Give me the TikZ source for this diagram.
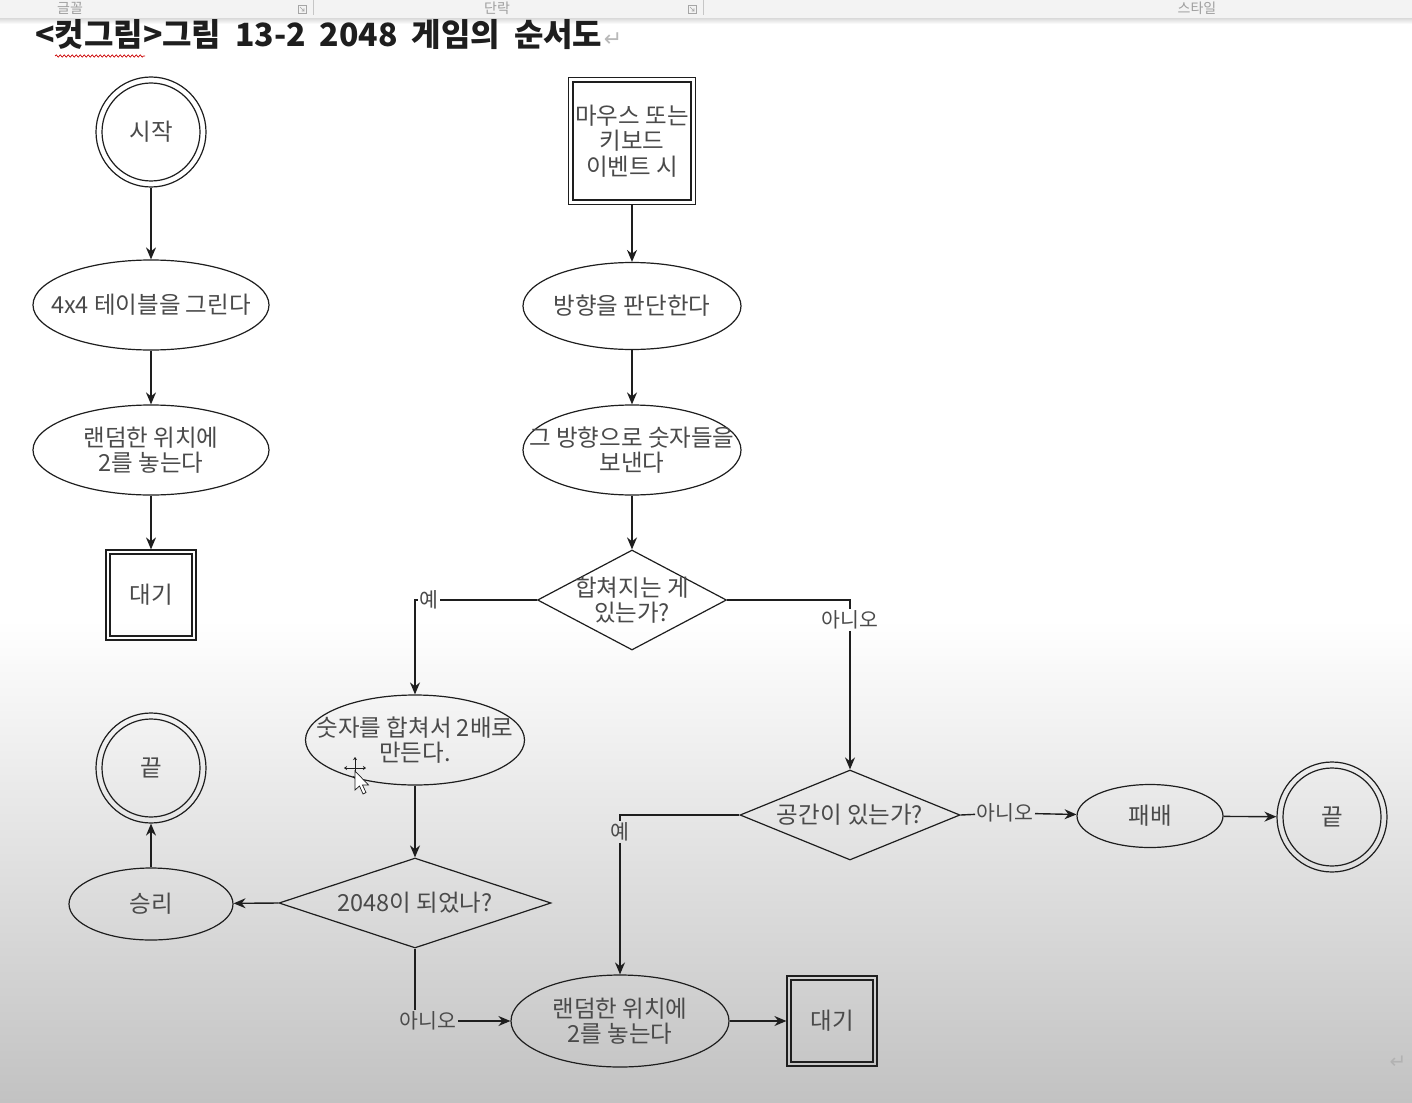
\documentclass[tikz,border=0pt]{standalone}
\usepackage{fontspec}
\setmainfont{Noto Sans CJK KR}
\newfontfamily\titlefont[WordSpace=1.9]{Noto Sans CJK KR}
\newfontfamily\symfont{DejaVu Sans}
\usetikzlibrary{shapes.geometric,arrows.meta,decorations.pathmorphing}

\definecolor{ink}{HTML}{1E1E1E}
\definecolor{txtgray}{HTML}{4A4A4A}
\definecolor{barbg}{HTML}{F3F3F3}
\definecolor{pagegray}{HTML}{C2C2C2}

\newcommand{\nodefont}{\fontsize{23.5}{25.5}\selectfont}
\newcommand{\labfont}{\fontsize{20.5}{24}\selectfont}

\begin{document}
\begin{tikzpicture}[x=1pt,y=-1pt,>={Stealth[length=12pt,width=10pt]},
  every label/.style={align=center,text=txtgray,font=\nodefont,inner sep=0pt},
  proc/.style 2 args={ellipse,draw=ink,line width=1.2pt,inner sep=0pt,minimum width=#1,minimum height=#2},
  cond/.style 2 args={diamond,draw=ink,line width=1.2pt,inner sep=0pt,minimum width=#1,minimum height=#2},
  ringout/.style={circle,draw=ink,line width=1.2pt,inner sep=0pt,minimum size=110pt},
  ringin/.style={circle,draw=ink,line width=1.2pt,inner sep=0pt,minimum size=98pt,text=txtgray,font=\nodefont},
  boxout/.style={rectangle,draw=ink,line width=1.2pt,inner sep=0pt,minimum size=#1},
  boxin/.style={rectangle,draw=ink,line width=1.2pt,inner sep=0pt,minimum size=#1,align=center,text=txtgray,font=\nodefont},
  answer/.style={text=txtgray,font=\labfont,inner sep=1.5pt},
  bar/.style={text=gray!75,font=\fontsize{14}{16}\selectfont,inner sep=0pt},
  flow/.style={->,draw=ink,line width=1.4pt},
  link/.style={draw=ink,line width=1.4pt}]
\useasboundingbox (0,0) rectangle (1412,1102);

% page and ribbon
\fill[white] (0,0) rectangle (1412,1102);
\fill[top color=white,bottom color=pagegray] (0,620) rectangle (1412,1102);
\fill[barbg] (0,0) rectangle (1412,19);
\fill[top color=gray!25,bottom color=white] (0,19) rectangle (1412,24);
\node[bar] (font) at (70,8) {글꼴};
\node[bar] (para) at (497,8) {단락};
\node[bar] (style) at (1197,8) {스타일};
\foreach \x in {302,692}{
  \draw[gray!70,line width=0.6pt] (\x-4,5) rectangle (\x+4,13);
  \draw[gray!70,line width=0.6pt] (\x-2,7) -- (\x+2,11) -- (\x+2,8.5) (\x+2,11) -- (\x-0.5,11);
  \draw[gray!45] (\x+11,0) -- (\x+11,15);
}

% title
\node[anchor=base west,inner sep=0pt,text=ink,font=\titlefont\fontsize{32}{36}\bfseries\selectfont] (title) at (35,47) {<컷그림>그림 13-2 2048 게임의 순서도};
\node[anchor=base west,inner sep=1pt,text=gray!55,font=\symfont\fontsize{22}{24}\selectfont] (ret1) at (title.base east) {↵};
\draw[red!80!black,line width=0.7pt,decorate,decoration={snake,amplitude=1.1pt,segment length=4pt}] (55,56) -- (145,56);
\node[inner sep=0pt,text=gray!60,font=\symfont\fontsize{20}{24}\selectfont] (ret2) at (1398,1062) {↵};

% left column
\node[ringout] (start) at (151,132) {};
\node[ringin] (start-in) at (start) {시작};
\node[proc={236pt}{90pt},label={center:4x4 테이블을 그린다}] (table) at (151,305) {};
\node[proc={236pt}{90pt},label={center:랜덤한 위치에\\2를 놓는다}] (rand1) at (151,450) {};
\node[boxout=90pt] (wait1) at (151,595) {};
\node[boxin=82pt] (wait1-in) at (wait1) {대기};

% event column
\node[boxout=127pt] (event) at (632,141) {};
\node[boxin=118pt] (event-in) at (event) {마우스 또는\\키보드\\이벤트 시};
\node[proc={218pt}{87pt},label={center:방향을 판단한다}] (dir) at (632,306) {};
\node[proc={218pt}{90pt},label={center:그 방향으로 숫자들을\\보낸다}] (send) at (632,450) {};
\node[cond={189pt}{100pt},label={center:합쳐지는 게\\있는가?}] (canmerge) at (632,600) {};
\node[proc={219pt}{90pt},label={center:숫자를 합쳐서 2배로\\만든다.}] (merge) at (415,740) {};
\node[cond={272pt}{90pt},label={center:2048이 되었나?}] (is2048) at (415,903) {};
\node[proc={164pt}{72pt},label={center:승리}] (win) at (151,904) {};
\node[ringout] (winend) at (151,768) {};
\node[ringin] (winend-in) at (winend) {끝};
\node[proc={218pt}{92pt},label={center:랜덤한 위치에\\2를 놓는다}] (rand2) at (620,1021) {};
\node[boxout=90pt] (wait2) at (832,1021) {};
\node[boxin=82pt] (wait2-in) at (wait2) {대기};
\node[cond={220pt}{90pt},label={center:공간이 있는가?}] (space) at (850,815) {};
\node[proc={146pt}{63pt},label={center:패배}] (lose) at (1150,816) {};
\node[ringout] (loseend) at (1332,817) {};
\node[ringin] (loseend-in) at (loseend) {끝};

% answers on the branches
\node[answer] (yes1) at (429,600) {예};
\node[answer] (no1) at (850,620) {아니오};
\node[answer] (yes2) at (620,832) {예};
\node[answer] (no2) at (1005,813) {아니오};
\node[answer] (no3) at (428,1021) {아니오};

% connectors
\draw[flow] (start) -- (table);
\draw[flow] (table) -- (rand1);
\draw[flow] (rand1) -- (wait1);
\draw[flow] (event) -- (dir);
\draw[flow] (dir) -- (send);
\draw[flow] (send) -- (canmerge);
\draw[link] (canmerge.west) -- (yes1);
\draw[flow] (yes1) -| (merge);
\draw[link] (canmerge.east) -| (no1);
\draw[flow] (no1) -- (space);
\draw[flow] (merge) -- (is2048);
\draw[flow] (is2048.west) -- (win);
\draw[flow] (win) -- (winend);
\draw[link] (is2048.south) -- (is2048.south |- no3.north);
\draw[flow] (no3) -- (rand2);
\draw[link] (space.west) -| (yes2);
\draw[flow] (yes2) -- (rand2);
\draw[link] (space.east) -- (no2);
\draw[flow] (no2) -- (lose);
\draw[flow] (lose) -- (loseend);
\draw[flow] (rand2) -- (wait2);

% mouse cursor
\draw[ink,line width=0.7pt,{Stealth[length=3pt,width=4pt]}-{Stealth[length=3pt,width=4pt]}] (344,768) -- (366,768);
\draw[ink,line width=0.7pt,{Stealth[length=3pt,width=4pt]}-{Stealth[length=3pt,width=4pt]}] (355,757) -- (355,779);
\filldraw[fill=white,draw=ink,line width=0.7pt] (355,771) -- (355,790) -- (359.5,786) -- (363,794) -- (366,792.5) -- (362.5,785) -- (368.5,785) -- cycle;
\end{tikzpicture}
\end{document}
